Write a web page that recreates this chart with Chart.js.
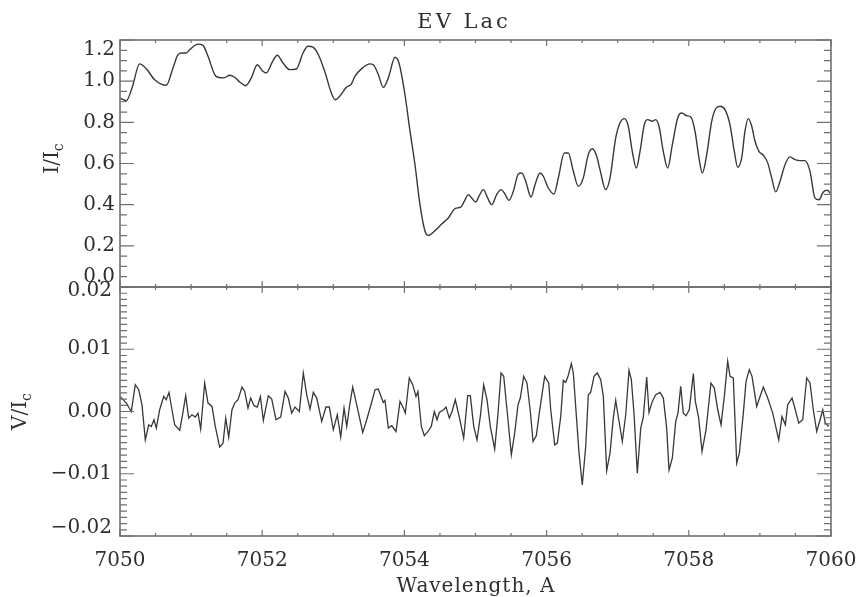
<!DOCTYPE html>
<html>
<head>
<meta charset="utf-8">
<title>EV Lac</title>
<script src="https://cdn.jsdelivr.net/npm/chart.js@4.4.0/dist/chart.umd.min.js"></script>
<style>
  html, body { margin: 0; padding: 0; background: #fff; }
  #wrap { position: relative; width: 860px; height: 597px; }
  #wrap canvas { position: absolute; left: 0; top: 0; }
</style>
</head>
<body>
<div id="wrap">
  <canvas id="intensity" width="860" height="597"></canvas>
  <canvas id="stokesV" width="860" height="597"></canvas>
</div>
<script>
// Intensity profile I/Ic (upper panel)
const iWave = [7050.000, 7050.089, 7050.169, 7050.277, 7050.370, 7050.488, 7050.651, 7050.745, 7050.816, 7050.872,
  7050.932, 7050.980, 7051.097, 7051.167, 7051.238, 7051.332, 7051.378, 7051.463, 7051.543, 7051.613,
  7051.684, 7051.768, 7051.847, 7051.931, 7052.001, 7052.058, 7052.152, 7052.212, 7052.293, 7052.387,
  7052.480, 7052.574, 7052.644, 7052.714, 7052.785, 7052.879, 7052.972, 7053.028, 7053.090, 7053.183,
  7053.253, 7053.305, 7053.399, 7053.516, 7053.563, 7053.633, 7053.703, 7053.774, 7053.868, 7053.924,
  7054.008, 7054.079, 7054.149, 7054.219, 7054.290, 7054.336, 7054.430, 7054.525, 7054.617, 7054.712,
  7054.796, 7054.842, 7054.899, 7054.947, 7055.003, 7055.049, 7055.110, 7055.172, 7055.228, 7055.298,
  7055.359, 7055.405, 7055.471, 7055.532, 7055.602, 7055.650, 7055.706, 7055.781, 7055.837, 7055.907,
  7055.954, 7056.024, 7056.104, 7056.165, 7056.249, 7056.305, 7056.376, 7056.446, 7056.516, 7056.586,
  7056.643, 7056.705, 7056.751, 7056.831, 7056.892, 7056.972, 7057.032, 7057.093, 7057.149, 7057.205,
  7057.262, 7057.314, 7057.374, 7057.422, 7057.487, 7057.534, 7057.581, 7057.641, 7057.703, 7057.768,
  7057.844, 7057.900, 7057.970, 7058.031, 7058.087, 7058.143, 7058.190, 7058.252, 7058.322, 7058.378,
  7058.439, 7058.509, 7058.579, 7058.640, 7058.688, 7058.744, 7058.790, 7058.837, 7058.885, 7058.931,
  7058.987, 7059.048, 7059.110, 7059.166, 7059.222, 7059.283, 7059.353, 7059.423, 7059.494, 7059.564,
  7059.634, 7059.705, 7059.775, 7059.831, 7059.892, 7059.951, 7059.986];
const iFlux = [0.918, 0.905, 0.967, 1.084, 1.060, 1.007, 0.980, 1.064, 1.129, 1.137,
  1.137, 1.153, 1.180, 1.174, 1.121, 1.032, 1.019, 1.016, 1.029, 1.019,
  0.996, 0.978, 1.016, 1.080, 1.051, 1.040, 1.100, 1.126, 1.088, 1.056,
  1.059, 1.137, 1.170, 1.165, 1.132, 1.048, 0.943, 0.910, 0.927, 0.970,
  0.986, 1.024, 1.061, 1.084, 1.080, 1.032, 0.970, 1.016, 1.116, 1.088,
  0.934, 0.757, 0.594, 0.400, 0.271, 0.251, 0.274, 0.306, 0.335, 0.381,
  0.389, 0.416, 0.449, 0.432, 0.413, 0.441, 0.473, 0.432, 0.400, 0.449,
  0.473, 0.457, 0.421, 0.465, 0.549, 0.554, 0.514, 0.437, 0.497, 0.554,
  0.538, 0.481, 0.452, 0.530, 0.651, 0.651, 0.562, 0.489, 0.530, 0.643,
  0.672, 0.635, 0.570, 0.473, 0.530, 0.724, 0.797, 0.818, 0.781, 0.659,
  0.578, 0.659, 0.789, 0.813, 0.805, 0.813, 0.781, 0.659, 0.578, 0.691,
  0.821, 0.845, 0.832, 0.825, 0.757, 0.627, 0.554, 0.643, 0.805, 0.866,
  0.878, 0.862, 0.789, 0.659, 0.582, 0.627, 0.757, 0.818, 0.781, 0.708,
  0.659, 0.640, 0.603, 0.530, 0.462, 0.514, 0.594, 0.632, 0.619, 0.614,
  0.614, 0.562, 0.432, 0.424, 0.462, 0.470, 0.457];

// Circular polarisation V/Ic (lower panel), values in units of 1e-3
const vWave = [7050.000, 7050.089, 7050.159, 7050.215, 7050.263, 7050.309, 7050.356, 7050.404, 7050.440, 7050.478,
  7050.511, 7050.558, 7050.615, 7050.651, 7050.689, 7050.731, 7050.769, 7050.840, 7050.876, 7050.924,
  7050.966, 7051.013, 7051.059, 7051.097, 7051.135, 7051.191, 7051.238, 7051.294, 7051.340, 7051.402,
  7051.449, 7051.487, 7051.529, 7051.575, 7051.613, 7051.660, 7051.716, 7051.754, 7051.800, 7051.838,
  7051.885, 7051.931, 7051.975, 7052.016, 7052.086, 7052.134, 7052.194, 7052.260, 7052.321, 7052.367,
  7052.415, 7052.461, 7052.522, 7052.578, 7052.626, 7052.672, 7052.719, 7052.767, 7052.837, 7052.897,
  7052.944, 7053.000, 7053.056, 7053.104, 7053.151, 7053.189, 7053.235, 7053.273, 7053.329, 7053.414,
  7053.470, 7053.526, 7053.587, 7053.633, 7053.703, 7053.727, 7053.774, 7053.821, 7053.882, 7053.938,
  7053.985, 7054.013, 7054.069, 7054.117, 7054.163, 7054.191, 7054.238, 7054.280, 7054.332, 7054.378,
  7054.421, 7054.459, 7054.491, 7054.553, 7054.585, 7054.632, 7054.670, 7054.716, 7054.772, 7054.834,
  7054.890, 7054.927, 7054.975, 7055.021, 7055.068, 7055.115, 7055.162, 7055.208, 7055.270, 7055.317,
  7055.359, 7055.397, 7055.443, 7055.504, 7055.551, 7055.598, 7055.630, 7055.678, 7055.724, 7055.771,
  7055.809, 7055.855, 7055.897, 7055.973, 7056.030, 7056.058, 7056.114, 7056.151, 7056.199, 7056.235,
  7056.269, 7056.301, 7056.348, 7056.376, 7056.409, 7056.456, 7056.502, 7056.550, 7056.587, 7056.620,
  7056.667, 7056.713, 7056.761, 7056.798, 7056.845, 7056.892, 7056.938, 7056.972, 7057.004, 7057.065,
  7057.113, 7057.159, 7057.192, 7057.229, 7057.276, 7057.324, 7057.360, 7057.408, 7057.440, 7057.487,
  7057.535, 7057.595, 7057.642, 7057.689, 7057.722, 7057.768, 7057.816, 7057.848, 7057.886, 7057.923,
  7057.961, 7058.007, 7058.064, 7058.092, 7058.139, 7058.186, 7058.242, 7058.312, 7058.359, 7058.407,
  7058.453, 7058.500, 7058.547, 7058.580, 7058.626, 7058.674, 7058.711, 7058.767, 7058.805, 7058.851,
  7058.889, 7058.955, 7059.002, 7059.048, 7059.110, 7059.180, 7059.265, 7059.311, 7059.358, 7059.391,
  7059.452, 7059.498, 7059.546, 7059.602, 7059.658, 7059.705, 7059.751, 7059.799, 7059.846, 7059.884,
  7059.920, 7059.968];
const vFluxMilli = [2.42, 1.36, 0.0, 4.31, 3.5, 1.09, -4.55, -2.13, -2.4, -1.33,
  -2.67, 0.28, 2.42, 1.89, 3.07, 0.28, -2.13, -3.04, -0.79, 2.54,
  -1.06, -0.52, -0.9, -0.26, -2.83, 4.57, 1.36, 0.82, -2.4, -5.73,
  -5.08, -1.06, -4.12, 0.28, 1.36, 1.89, 3.93, 3.23, 0.55, 2.16,
  0.93, 0.72, 2.4, -1.44, 2.54, 2.0, -1.33, -0.9, 3.23, 2.16,
  -0.26, 0.72, 0.0, 6.19, 2.7, 0.39, 3.07, 2.16, -1.6, 0.72,
  0.72, -2.94, -0.52, -4.12, 0.55, -2.4, 1.36, 3.93, 1.09, -3.37,
  -1.33, 0.93, 3.5, 3.61, 1.46, 1.78, -2.67, -2.29, -3.21, 1.62,
  0.55, -0.26, 5.38, 4.31, 2.42, 3.23, -2.4, -3.9, -3.21, -2.4,
  0.0, -1.33, -0.15, 0.28, 0.72, -1.06, 0.0, 1.89, -0.9, -4.27,
  2.54, 2.54, -2.4, -4.55, -0.79, 4.31, 1.89, -2.4, -6.05, -0.26,
  6.19, 5.65, 0.28, -6.96, -3.48, 1.09, 2.16, 5.65, 4.58, 0.0,
  -4.82, -3.9, -0.26, 5.65, 4.58, 0.28, -5.35, -5.08, -0.79, 5.0,
  4.68, 5.65, 7.69, 6.19, 0.82, -6.69, -11.8, -5.62, 2.7, 3.07,
  5.65, 6.19, 5.11, 2.42, -9.5, -6.69, -1.06, 1.78, -0.52, -4.82,
  -0.52, 6.61, 5.11, -0.26, -9.91, -2.67, -0.9, 5.54, -0.15, 1.62,
  2.7, 3.07, 2.16, -2.67, -9.4, -7.5, -1.6, -0.26, 4.04, -0.26,
  -0.68, 0.28, 6.08, 1.62, -1.06, -6.43, -2.94, 4.58, 3.77, 0.28,
  -2.13, 2.42, 8.06, 5.65, 5.38, -8.3, -6.69, -0.26, 4.84, 6.72,
  5.65, 0.82, 2.42, 3.93, 2.16, -0.26, -4.55, -0.79, -2.13, 1.09,
  2.16, 0.28, -1.86, -1.33, 5.38, 4.58, 0.28, -3.21, -1.33, 0.28,
  -1.86, -2.4];

// Axis ticks and labels
const waveTicks = [7050, 7052, 7054, 7056, 7058, 7060];
const waveTickLabels = ['7050', '7052', '7054', '7056', '7058', '7060'];
const iTicks = [0.0, 0.2, 0.4, 0.6, 0.8, 1.0, 1.2];
const iTickLabels = ['0.0', '0.2', '0.4', '0.6', '0.8', '1.0', '1.2'];
const vTicks = [-0.02, -0.01, 0.0, 0.01, 0.02];
const vTickLabels = ['\u22120.02', '\u22120.01', '0.00', '0.01', '0.02'];

const FONT = '"DejaVu Serif", "Liberation Serif", serif';
const TEXT_COLOR = '#2f2f2f';
const FRAME_COLOR = '#707070';
const LINE_COLOR = '#383838';

const makePoints = (xs, ys) => xs.map((x, i) => ({ x: x, y: ys[i] }));

// draws IDL-like box axes with inward ticks, using the chart's own scales
function drawBox(chart, cfg) {
	const ctx = chart.ctx;
	const area = chart.chartArea;
	const xs = chart.scales.x;
	const ys = chart.scales.y;

	ctx.save();
	ctx.strokeStyle = FRAME_COLOR;
	ctx.lineWidth = 1.6;
	ctx.strokeRect(area.left, area.top, area.right - area.left, area.bottom - area.top);

	ctx.lineWidth = 1.2;
	ctx.beginPath();
	// wavelength ticks, top and bottom edges
	for (let n = 0; n <= 20; n++) {
		const px = xs.getPixelForValue(7050 + n * 0.5);
		const len = (n % 4 === 0) ? 6 : 3;
		ctx.moveTo(px, area.top); ctx.lineTo(px, area.top + len);
		ctx.moveTo(px, area.bottom); ctx.lineTo(px, area.bottom - len);
	}
	// value ticks, left and right edges
	for (let n = 0; n <= cfg.minorCount; n++) {
		const py = ys.getPixelForValue(cfg.yMin + n * cfg.minorStep);
		const len = (n % cfg.majorEvery === 0) ? 14 : 7;
		ctx.moveTo(area.left, py); ctx.lineTo(area.left + len, py);
		ctx.moveTo(area.right, py); ctx.lineTo(area.right - len, py);
	}
	ctx.stroke();

	// value labels
	ctx.fillStyle = TEXT_COLOR;
	ctx.font = '20px ' + FONT;
	ctx.textAlign = 'right';
	ctx.textBaseline = 'middle';
	cfg.ticks.forEach(function(v, i){
		const py = ys.getPixelForValue(v) + (cfg.labelShift[i] || 0);
		ctx.fillText(cfg.labels[i], cfg.labelRight, py);
	});

	// rotated axis title with subscript c
	ctx.save();
	ctx.translate(cfg.titleX, (area.top + area.bottom) / 2 + cfg.titleDy);
	ctx.rotate(-Math.PI / 2);
	ctx.textAlign = 'left';
	ctx.textBaseline = 'middle';
	ctx.font = '20px ' + FONT;
	const mainW = ctx.measureText(cfg.title).width;
	const subFont = '14px ' + FONT;
	ctx.font = subFont;
	const subW = ctx.measureText('c').width;
	const start = -(mainW + subW) / 2;
	ctx.font = '20px ' + FONT;
	ctx.fillText(cfg.title, start, 0);
	ctx.font = subFont;
	ctx.fillText('c', start + mainW, 6);
	ctx.restore();

	ctx.restore();
}

const basePadding = { left: 120, right: 29 };

// Upper panel
new Chart(document.getElementById('intensity'), {
	type: 'line',
	data: {
		datasets: [{
			label: 'I/Ic',
			data: makePoints(iWave, iFlux),
			borderColor: LINE_COLOR,
			borderWidth: 1.4,
			pointRadius: 0,
			cubicInterpolationMode: 'monotone',
			fill: false
		}]
	},
	options: {
		responsive: false,
		animation: false,
		layout: { padding: { left: basePadding.left, right: basePadding.right, top: 40, bottom: 310 } },
		scales: {
			x: { type: 'linear', min: 7050, max: 7060, display: false },
			y: { type: 'linear', min: 0, max: 1.2, display: false }
		},
		plugins: { legend: { display: false }, tooltip: { enabled: false } }
	},
	plugins: [{
		id: 'upperBox',
		afterDraw: function(chart){
			drawBox(chart, {
				yMin: 0, minorStep: 0.05, minorCount: 24, majorEvery: 4,
				ticks: iTicks, labels: iTickLabels,
				labelShift: [-10, 0, 0, 0, 0, 0, 10],
				labelRight: 115,
				title: 'I/I', titleX: 53, titleDy: -5
			});
			const ctx = chart.ctx;
			ctx.save();
			ctx.fillStyle = TEXT_COLOR;
			ctx.font = '21px ' + FONT;
			ctx.letterSpacing = '3px';
			ctx.textAlign = 'center';
			ctx.textBaseline = 'alphabetic';
			ctx.fillText('EV Lac', 464, 28);
			ctx.restore();
		}
	}]
});

// Lower panel
new Chart(document.getElementById('stokesV'), {
	type: 'line',
	data: {
		datasets: [{
			label: 'V/Ic',
			data: makePoints(vWave, vFluxMilli.map(v => v / 1000)),
			borderColor: LINE_COLOR,
			borderWidth: 1.3,
			pointRadius: 0,
			tension: 0,
			fill: false
		}]
	},
	options: {
		responsive: false,
		animation: false,
		layout: { padding: { left: basePadding.left, right: basePadding.right, top: 287, bottom: 61 } },
		scales: {
			x: { type: 'linear', min: 7050, max: 7060, display: false },
			y: { type: 'linear', min: -0.02, max: 0.02, display: false }
		},
		plugins: { legend: { display: false }, tooltip: { enabled: false } }
	},
	plugins: [{
		id: 'lowerBox',
		afterDraw: function(chart){
			drawBox(chart, {
				yMin: -0.02, minorStep: 0.001, minorCount: 40, majorEvery: 10,
				ticks: vTicks, labels: vTickLabels,
				labelShift: [-8, 0, 0, 0, 4],
				labelRight: 112,
				title: 'V/I', titleX: 21, titleDy: 0
			});

			// wavelength labels and title
			const ctx = chart.ctx;
			const xs = chart.scales.x;
			ctx.save();
			ctx.fillStyle = TEXT_COLOR;
			ctx.font = '20px ' + FONT;
			ctx.textAlign = 'center';
			ctx.textBaseline = 'alphabetic';
			waveTicks.forEach(function(v, i){
				ctx.fillText(waveTickLabels[i], xs.getPixelForValue(v), 566);
			});
			ctx.letterSpacing = '1px';
			ctx.fillText('Wavelength, A', 476, 592);
			ctx.restore();
		}
	}]
});
</script>
</body>
</html>
